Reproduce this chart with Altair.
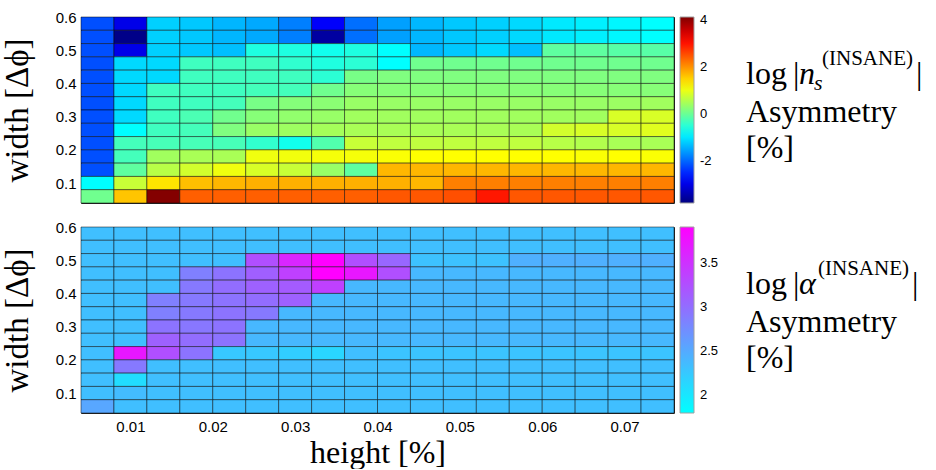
import altair as alt
import pandas as pd

# cell centres
heights = [0.006, 0.010, 0.014, 0.018, 0.022, 0.026, 0.030, 0.034, 0.038,
           0.042, 0.046, 0.050, 0.054, 0.058, 0.062, 0.066, 0.070, 0.074]
widths = [0.58, 0.54, 0.50, 0.46, 0.42, 0.38, 0.34, 0.30, 0.26, 0.22, 0.18, 0.14, 0.10, 0.06]

# log|n_s| asymmetry, rows from width 0.58 (top) down to 0.06
ns_rows = [
    [-2.2, -3.0, -1.2, -1.26, -1.4, -1.5, -1.83, -2.85, -1.95, -1.57, -1.39, -1.26, -1.2, -1.13, -1.0, -0.95, -0.89, -0.83],
    [-2.2, -3.75, -1.2, -1.26, -1.4, -1.5, -1.83, -3.55, -1.95, -1.57, -1.39, -1.26, -1.2, -1.13, -1.0, -0.95, -0.89, -0.83],
    [-2.2, -3.0, -1.2, -1.26, -1.33, -0.6, -0.6, -0.7, -0.6, -0.83, -1.39, -1.26, -1.13, -1.33, -0.09, -0.09, -0.15, -0.15],
    [-2.2, -1.13, -1.13, -0.34, -0.34, -0.34, -0.46, -0.59, -0.5, -0.83, 0.04, 0.04, 0.04, 0.04, 0.04, 0.04, 0.04, 0.04],
    [-2.2, -1.13, -1.13, -0.34, -0.34, -0.34, -0.34, -0.5, 0.1, 0.16, 0.16, 0.16, 0.16, 0.16, 0.16, 0.16, 0.16, 0.16],
    [-2.2, -1.13, -0.34, -0.34, -0.34, -0.3, -0.3, 0.04, 0.22, 0.22, 0.22, 0.22, 0.22, 0.22, 0.22, 0.22, 0.22, 0.22],
    [-2.2, -1.13, -0.34, -0.34, -0.3, 0.1, 0.2, 0.25, 0.36, 0.36, 0.36, 0.36, 0.36, 0.36, 0.36, 0.36, 0.38, 0.42],
    [-2.2, -1.13, -0.34, -0.25, 0.05, 0.22, 0.3, 0.35, 0.42, 0.42, 0.42, 0.42, 0.42, 0.42, 0.42, 0.42, 0.85, 0.85],
    [-2.2, -0.83, -0.34, -0.3, 0.16, 0.36, 0.4, 0.45, 0.48, 0.48, 0.48, 0.48, 0.48, 0.48, 0.8, 0.85, 0.85, 0.91],
    [-2.2, -0.3, -0.28, -0.28, -0.28, -0.45, -0.7, -0.2, 0.72, 0.66, 0.66, 0.66, 0.66, 0.66, 0.6, 0.55, 0.48, 0.48],
    [-2.2, -0.3, 0.42, 0.48, 0.48, 1.03, 1.05, 1.08, 1.08, 1.12, 1.15, 1.15, 1.15, 1.15, 1.15, 1.12, 1.15, 1.12],
    [-2.2, -0.09, 0.6, 0.8, 1.03, 0.85, 0.72, 0.35, -0.09, 1.71, 1.71, 1.71, 1.71, 1.71, 1.71, 1.71, 1.71, 1.71],
    [-0.83, 0.72, 1.35, 1.65, 1.71, 1.77, 1.77, 1.77, 1.77, 1.77, 1.71, 2.15, 2.15, 2.15, 2.15, 2.15, 2.15, 2.15],
    [0.04, 1.6, 4.1, 2.4, 2.4, 2.4, 2.4, 2.4, 2.4, 2.46, 2.46, 2.52, 2.96, 2.46, 2.46, 2.46, 2.46, 2.46],
]

# log|alpha| asymmetry, same layout
alpha_rows = [
    [2.32] * 18,
    [2.32] * 18,
    [2.32, 2.32, 2.32, 2.32, 2.32, 3.25, 3.59, 3.91, 3.25, 3.05, 2.3, 2.3, 2.3, 2.45, 2.45, 2.45, 2.45, 2.45],
    [2.32, 2.32, 2.32, 2.85, 2.95, 3.12, 3.38, 3.91, 3.72, 3.25, 2.38, 2.38, 2.38, 2.38, 2.38, 2.38, 2.38, 2.38],
    [2.32, 2.32, 2.32, 2.9, 3.0, 3.1, 3.15, 3.38, 2.38, 2.38, 2.38, 2.38, 2.38, 2.38, 2.38, 2.38, 2.38, 2.38],
    [2.32, 2.32, 2.85, 2.9, 2.95, 3.0, 3.1, 2.38, 2.38, 2.38, 2.38, 2.38, 2.38, 2.38, 2.38, 2.38, 2.38, 2.38],
    [2.32, 2.32, 2.85, 2.9, 2.95, 2.9, 2.38, 2.38, 2.38, 2.38, 2.38, 2.38, 2.38, 2.38, 2.38, 2.38, 2.38, 2.38],
    [2.32, 2.32, 2.95, 2.92, 2.95, 2.38, 2.38, 2.38, 2.38, 2.38, 2.38, 2.38, 2.38, 2.38, 2.38, 2.38, 2.38, 2.38],
    [2.32, 2.32, 3.1, 3.0, 2.95, 2.38, 2.38, 2.38, 2.38, 2.38, 2.38, 2.38, 2.38, 2.38, 2.38, 2.38, 2.38, 2.38],
    [2.32, 3.72, 3.25, 2.95, 2.25, 2.25, 2.2, 2.13, 2.32, 2.28, 2.28, 2.28, 2.28, 2.28, 2.28, 2.28, 2.28, 2.28],
    [2.32, 2.9, 2.32, 2.32, 2.32, 2.32, 2.32, 2.32, 2.32, 2.32, 2.32, 2.32, 2.32, 2.32, 2.32, 2.32, 2.32, 2.32],
    [2.32, 2.07, 2.32, 2.32, 2.32, 2.32, 2.32, 2.32, 2.32, 2.32, 2.32, 2.32, 2.32, 2.32, 2.32, 2.32, 2.32, 2.32],
    [2.32, 2.35, 2.32, 2.32, 2.32, 2.32, 2.32, 2.32, 2.32, 2.32, 2.32, 2.32, 2.32, 2.32, 2.32, 2.32, 2.32, 2.32],
    [2.52, 2.32, 2.32, 2.32, 2.32, 2.32, 2.32, 2.32, 2.32, 2.32, 2.32, 2.32, 2.32, 2.32, 2.32, 2.32, 2.32, 2.32],
]

x_ticks = [0.01, 0.02, 0.03, 0.04, 0.05, 0.06, 0.07]
y_ticks = [0.1, 0.2, 0.3, 0.4, 0.5, 0.6]
ns_legend_ticks = [-2, 0, 2, 4]
alpha_legend_ticks = [2, 2.5, 3, 3.5]

# jet colormap stops, cool colormap
jet_domain = [-3.81, -2.82, -0.83, 1.15, 3.14, 4.13]
jet_range = ["#000080", "#0000ff", "#00ffff", "#ffff00", "#ff0000", "#800000"]
cool_domain = [1.79, 3.91]
cool_range = ["#00ffff", "#ff00ff"]


def long_df(rows, name):
    recs = []
    for w, row in zip(widths, rows):
        for h, v in zip(heights, row):
            recs.append({"h": h, "w": w, name: v})
    return pd.DataFrame(recs)


W, H = 593, 186
SERIF = "Liberation Serif"
SANS = "Liberation Sans"


def piece(text, x, y, size=32, style="normal"):
    return alt.Chart(alt.Data(values=[{}])).mark_text(
        text=text, align="left", baseline="alphabetic", font=SERIF,
        fontSize=size, fontStyle=style, color="black"
    ).encode(x=alt.value(x), y=alt.value(y))


def heat(df, field, domain, rng, ticks, show_x, symbol_pieces):
    base = alt.Chart(df).transform_calculate(
        h0="datum.h - 0.002", h1="datum.h + 0.002",
        w0="datum.w - 0.02", w1="datum.w + 0.02",
    )
    if show_x:
        xaxis = alt.Axis(values=x_ticks, format=".2f", grid=False, ticks=False, domain=False,
                         labelFont=SANS, labelFontSize=15, labelPadding=6, labelColor="black",
                         title="height [%]", titleFont=SERIF, titleFontSize=32,
                         titleFontWeight="normal", titlePadding=3, titleColor="black")
    else:
        xaxis = None
    rect = base.mark_rect(stroke="black", strokeWidth=0.8, strokeOpacity=0.6).encode(
        x=alt.X("h0:Q", scale=alt.Scale(domain=[0.004, 0.076], nice=False, zero=False), axis=xaxis),
        x2="h1:Q",
        y=alt.Y("w0:Q", scale=alt.Scale(domain=[0.04, 0.6], nice=False, zero=False),
                axis=alt.Axis(values=y_ticks, format=".1f", grid=False, ticks=False, domain=False,
                              labelFont=SANS, labelFontSize=15, labelPadding=5, labelColor="black",
                              title="width [Δϕ]", titleFont=SERIF, titleFontSize=33,
                              titleFontWeight="normal", titlePadding=21, titleColor="black")),
        y2="w1:Q",
        color=alt.Color(f"{field}:Q", scale=alt.Scale(domain=domain, range=rng, interpolate="rgb"),
                        legend=alt.Legend(orient="none", legendX=599, legendY=0, direction="vertical",
                                          gradientLength=H, gradientThickness=14, title=None,
                                          values=ticks, labelExpr="'' + datum.value",
                                          labelFont=SANS, labelFontSize=13, labelOffset=6,
                                          labelColor="black",
                                          gradientStrokeColor="#a0a0a0", gradientStrokeWidth=1)),
    )
    return alt.layer(rect, *symbol_pieces).properties(width=W, height=H)


top_text = [
    piece("log", 665, 67),
    piece("|", 712, 67),
    piece("n", 718, 67, style="italic"),
    piece("s", 733, 73, size=22, style="italic"),
    piece("(INSANE)", 741, 48, size=21),
    piece("|", 835, 67),
    piece("Asymmetry", 665, 105),
    piece("[%]", 665, 141),
]
bottom_text = [
    piece("log", 665, 67),
    piece("|", 712, 67),
    piece("α", 718, 67, style="italic"),
    piece("(INSANE)", 737, 48, size=21),
    piece("|", 831, 67),
    piece("Asymmetry", 665, 105),
    piece("[%]", 665, 141),
]

top = heat(long_df(ns_rows, "ns"), "ns", jet_domain, jet_range, ns_legend_ticks, False, top_text)
bottom = heat(long_df(alpha_rows, "alpha"), "alpha", cool_domain, cool_range, alpha_legend_ticks, True, bottom_text)

chart = alt.vconcat(top, bottom, spacing=14).resolve_scale(color="independent").configure_view(
    stroke="#262626", strokeWidth=1
).properties(padding={"left": 0, "top": 9, "right": 0, "bottom": 0}, background="white")

chart.save("out.html", embed_options={"renderer": "svg", "actions": False})
